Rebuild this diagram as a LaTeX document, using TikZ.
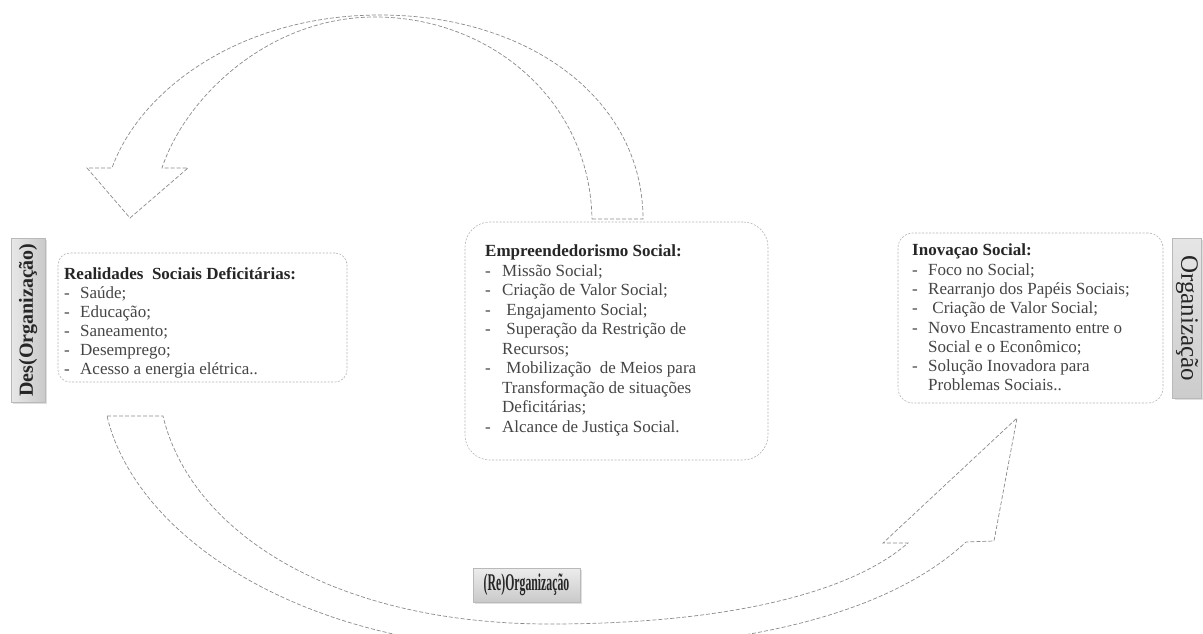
\documentclass[tikz,border=0pt]{standalone}
\usepackage{fontspec}
\usepackage{graphicx}
\setmainfont{Liberation Serif}
\usetikzlibrary{shadows}
\definecolor{txt}{HTML}{454545}
\definecolor{ttl}{HTML}{262626}
\definecolor{arr}{HTML}{8A8A8A}
\definecolor{bdr}{HTML}{B4B4B4}
\newcommand\myitem[2]{\makebox[#1][l]{-}#2}
\begin{document}
\begin{tikzpicture}[x=1pt,y=-1pt,
  infobox/.style={draw=bdr, line width=0.6pt, dash pattern=on 2pt off 1.5pt, fill=white, inner sep=0pt},
  blockarrow/.style={draw=arr, line width=0.7pt, dash pattern=on 4pt off 2pt, line join=miter},
  labelbox/.style={draw=gray!55, line width=0.5pt, inner sep=0pt, text=ttl,
     drop shadow={opacity=0.25, shadow xshift=2pt, shadow yshift=-2pt}},
  bodytext/.style={anchor=base west, inner sep=0pt, text=txt}
]
\useasboundingbox (0,0) rectangle (1203,633);

% ---- top curved arrow (from Empreendedorismo back to Realidades)
\draw[blockarrow] (592,219) -- (643,219)
   .. controls (643,100) and (530,15) .. (380,15)
   .. controls (240,15) and (140,90) .. (112,168)
   -- (87,168) -- (130,218) -- (188,168) -- (162,168)
   .. controls (185,98) and (268,17) .. (375,17)
   .. controls (490,17) and (590,100) .. (592,219);

% ---- bottom curved arrow (from Realidades to Inovacao)
\draw[blockarrow] (107,416) -- (163,416)
   .. controls (190,530) and (330,624) .. (550,624)
   .. controls (710,624) and (845,598) .. (908,543)
   -- (883,543) -- (1017,418) -- (994,541) -- (966,542)
   .. controls (895,608) and (760,650) .. (545,650)
   .. controls (300,650) and (135,535) .. (107,416);

% ---- boxes
\node[infobox, minimum width=289pt, minimum height=129pt, rounded corners=12pt] (realbox) at (202.5,317.5) {};
\node[infobox, minimum width=303pt, minimum height=238pt, rounded corners=25pt] (empbox) at (616.5,341) {};
\node[infobox, minimum width=265pt, minimum height=170pt, rounded corners=15pt] (inovbox) at (1030.5,318) {};

% ---- texts
\node[bodytext] (realtext) at (64,268) {\fontsize{17}{19}\selectfont\parbox[t]{280pt}{\raggedright
 {\bfseries\color{ttl}Realidades\ \ Sociais Deficitárias:}\\
 \myitem{16pt}{Saúde;}\\
 \myitem{16pt}{Educação;}\\
 \myitem{16pt}{Saneamento;}\\
 \myitem{16pt}{Desemprego;}\\
 \myitem{16pt}{Acesso a energia elétrica..}}};

\node[bodytext] (emptext) at (485,245) {\fontsize{17}{19.5}\selectfont\parbox[t]{280pt}{\raggedright
 {\bfseries\color{ttl}Empreendedorismo Social:}\\
 \myitem{17pt}{Missão Social;}\\
 \myitem{17pt}{Criação de Valor Social;}\\
 \myitem{17pt}{\ Engajamento Social;}\\
 \myitem{17pt}{\ Superação da Restrição de}\\
 \hspace*{17pt}Recursos;\\
 \myitem{17pt}{\ Mobilização\ \ de Meios para}\\
 \hspace*{17pt}Transformação de situações\\
 \hspace*{17pt}Deficitárias;\\
 \myitem{17pt}{Alcance de Justiça Social.}}};

\node[bodytext] (inovtext) at (912,244) {\fontsize{17}{19.3}\selectfont\parbox[t]{250pt}{\raggedright
 {\bfseries\color{ttl}Inovaçao Social:}\\
 \myitem{16pt}{Foco no Social;}\\
 \myitem{16pt}{Rearranjo dos Papéis Sociais;}\\
 \myitem{16pt}{\ Criação de Valor Social;}\\
 \myitem{16pt}{Novo Encastramento entre o}\\
 \hspace*{16pt}Social e o Econômico;\\
 \myitem{16pt}{Solução Inovadora para}\\
 \hspace*{16pt}Problemas Sociais..}};

% ---- side labels
\node[labelbox, rotate=90, minimum width=164pt, minimum height=34pt,
      left color=gray!18, right color=gray!42, shading angle=90] (deslabel) at (28,320)
      {\fontsize{20}{22}\selectfont\bfseries Des(Organização)};
\node[labelbox, rotate=-90, minimum width=160pt, minimum height=29pt,
      top color=gray!20, bottom color=gray!40] (orglabel) at (1187,318)
      {\fontsize{25}{27}\selectfont Organização};
\node[labelbox, minimum width=107pt, minimum height=34pt,
      top color=gray!15, bottom color=gray!42] (relabel) at (526.5,585)
      {\fontsize{24}{26}\selectfont\bfseries\scalebox{0.49}[1]{(Re)Organização}};
\end{tikzpicture}
\end{document}
